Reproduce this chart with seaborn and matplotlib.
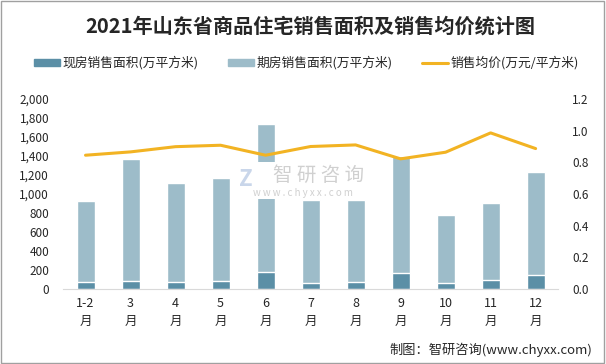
import numpy as np
import matplotlib
matplotlib.use("Agg")
import matplotlib.pyplot as plt
from matplotlib.ticker import FuncFormatter
from matplotlib.lines import Line2D
from matplotlib.patches import Patch
import seaborn as sns

months = ["1-2\n月", "3\n月", "4\n月", "5\n月", "6\n月", "7\n月",
          "8\n月", "9\n月", "10\n月", "11\n月", "12\n月"]
# 现房销售面积 (万平方米)
spot_area = [69, 87, 77, 87, 182, 66, 77, 164, 66, 98, 150]
# 现房+期房 总销售面积 (万平方米)
total_area = [928, 1369, 1117, 1169, 1737, 937, 937, 1400, 780, 907, 1232]
# 销售均价 (万元/平方米)
avg_price = [0.845, 0.866, 0.899, 0.908, 0.845, 0.90, 0.91, 0.822, 0.864, 0.986, 0.887]

dark = "#5b8fa6"
light = "#9dbcc9"
orange = "#f2b323"

sns.set_style("white")
plt.rcParams["font.family"] = ["Noto Sans CJK SC", "DejaVu Sans"]

fig = plt.figure(figsize=(6.06, 3.64), dpi=100)
ax = fig.add_axes([0.104, 0.206, 0.817, 0.522])

sns.barplot(x=list(range(len(months))), y=total_area, color=light, width=0.4,
            saturation=1, ax=ax)
sns.barplot(x=list(range(len(months))), y=spot_area, color=dark, width=0.4,
            saturation=1, ax=ax)

ax2 = ax.twinx()
sns.lineplot(x=np.arange(len(months)), y=avg_price, color=orange, linewidth=2.2,
             ax=ax2, sort=False)

ax.set_xlim(-0.5, len(months) - 0.5)
ax.set_ylim(0, 2000)
ax.set_yticks(range(0, 2001, 200))
ax.yaxis.set_major_formatter(FuncFormatter(lambda v, p: f"{int(v):,}"))
ax2.set_ylim(0, 1.2)
ax2.set_yticks(np.arange(0, 1.21, 0.2))
ax2.yaxis.set_major_formatter(FuncFormatter(lambda v, p: f"{v:.1f}"))

ax.set_xticks(range(len(months)))
ax.set_xticklabels(months, fontsize=9, linespacing=1.5)
ax.tick_params(axis="y", labelsize=8.5, length=0, pad=10)
ax2.tick_params(axis="y", labelsize=8.5, length=0, pad=10)
ax.tick_params(axis="x", length=0, pad=6)

for a in (ax, ax2):
    for s in ["top", "left", "right"]:
        a.spines[s].set_visible(False)
    a.spines["bottom"].set_color("#d9d9d9")
ax2.spines["bottom"].set_visible(False)
ax.set_xlabel("")
ax.set_ylabel("")
ax2.set_ylabel("")

fig.text(0.512, 0.928, "2021年山东省商品住宅销售面积及销售均价统计图",
         ha="center", va="center", fontsize=14.5, fontweight="bold")

handles = [Patch(color=dark), Patch(color=light), Line2D([0], [0], color=orange, lw=2.2)]
labels = ["现房销售面积(万平方米)", "期房销售面积(万平方米)", "销售均价(万元/平方米)"]
fig.legend(handles, labels, loc="center", bbox_to_anchor=(0.506, 0.827), ncol=3,
           frameon=False, fontsize=9.2, handlelength=2.0, handleheight=0.5,
           columnspacing=2.3, handletextpad=0.25)

# watermark
fig.patches.append(plt.Rectangle((0.3845, 0.453), 0.234, 0.102, transform=fig.transFigure,
                                 facecolor="white", edgecolor="none", zorder=1))
fig.text(0.525, 0.519, "智 研 咨 询", ha="center", va="center",
         fontsize=14, color="#d0d0d0", zorder=2)
fig.text(0.5, 0.47, "w w w . c h y x x . c o m", ha="center", va="center",
         fontsize=7, color="#d0d0d0", zorder=2)
fig.text(0.405, 0.508, "Z", ha="center", va="center", fontsize=16,
         fontweight="bold", color="#c9d6ea", zorder=2)

fig.text(0.977, 0.04, "制图：智研咨询(www.chyxx.com)", ha="right", va="center",
         fontsize=9.5)

fig.patches.append(plt.Rectangle((0.002, 0.003), 0.995, 0.994, transform=fig.transFigure,
                                 fill=False, edgecolor="#a0a0a0", lw=1))

fig.savefig("out.png", dpi=100)
